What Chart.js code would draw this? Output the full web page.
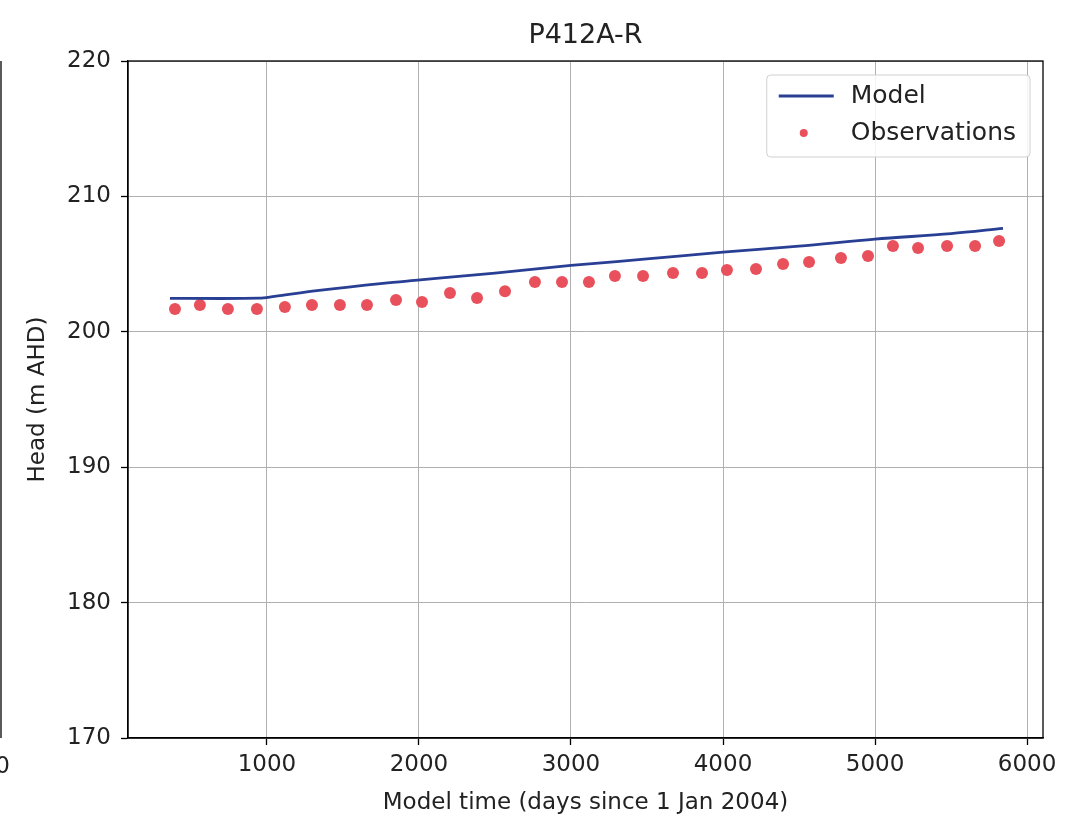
<!DOCTYPE html>
<html>
<head>
<meta charset="utf-8">
<script src="https://cdn.jsdelivr.net/npm/chart.js@4.4.1/dist/chart.umd.min.js"></script>
<style>
  html, body { margin: 0; padding: 0; background: #fff; }
  #wrap { width: 1073px; height: 821px; }
</style>
</head>
<body>
<div id="wrap"><canvas id="headChart" width="1073" height="821"></canvas></div>
<script>
const chartTitle = "P412A-R";
const xTitle = "Model time (days since 1 Jan 2004)";
const yTitle = "Head (m AHD)";

const xTicks = [1000, 2000, 3000, 4000, 5000, 6000];
const yTicks = [170, 180, 190, 200, 210, 220];

// model curve
const modelDays = [362, 700, 950, 1050, 1329, 1763, 2007, 2500, 3000, 3500, 4000, 4500, 5000, 5500, 5842];
const modelHead = [202.47, 202.46, 202.48, 202.62, 203.04, 203.58, 203.83, 204.34, 204.9, 205.38, 205.88, 206.32, 206.85, 207.25, 207.64];

// observed heads
const obsDays = [395, 559, 743, 934, 1118, 1296, 1480, 1658, 1849, 2020, 2204, 2382, 2566, 2763, 2941, 3118,
  3289, 3474, 3671, 3862, 4026, 4217, 4395, 4566, 4776, 4954, 5118, 5283, 5474, 5658, 5816];
const obsHead = [201.68, 201.98, 201.68, 201.68, 201.83, 201.98, 201.98, 201.98, 202.35, 202.2, 202.87, 202.5,
  203.0, 203.68, 203.68, 203.68, 204.12, 204.12, 204.34, 204.34, 204.56, 204.64, 205.0, 205.15, 205.45, 205.6,
  206.34, 206.19, 206.34, 206.34, 206.7];

const FONT = "'DejaVu Sans', sans-serif";
const TXT = "#222";
const MODEL_COLOR = "#283f94";
const OBS_COLOR = "#e8505c";

const frameAndLegend = {
  id: "frameAndLegend",
  afterDraw(chart) {
    const { ctx, chartArea: a } = chart;
    ctx.save();
    // full box round the plot
    ctx.strokeStyle = "#000";
    ctx.lineWidth = 1.3;
    ctx.strokeRect(a.left, a.top, a.right - a.left, a.bottom - a.top);

    // title over the plot area
    ctx.fillStyle = TXT;
    ctx.font = "27px " + FONT;
    ctx.textAlign = "center";
    ctx.textBaseline = "middle";
    ctx.fillText(chartTitle, (a.left + a.right) / 2, 36);

    // legend in the upper right corner
    ctx.font = "25px " + FONT;
    const ds = chart.data.datasets;
    const textW = Math.max(...ds.map(d => ctx.measureText(d.label).width));
    const boxR = a.right - 13, boxT = a.top + 14;
    const boxW = 84 + textW + 14, boxH = 82;
    const boxL = boxR - boxW;
    ctx.fillStyle = "rgba(255,255,255,0.85)";
    ctx.strokeStyle = "#d0d0d0";
    ctx.lineWidth = 1;
    ctx.beginPath();
    ctx.roundRect(boxL, boxT, boxW, boxH, 4);
    ctx.fill();
    ctx.stroke();
    ds.forEach((d, i) => {
      const cy = boxT + 21 + i * 37;
      if (d.showLine) {
        ctx.strokeStyle = d.borderColor;
        ctx.lineWidth = d.borderWidth;
        ctx.beginPath();
        ctx.moveTo(boxL + 12, cy);
        ctx.lineTo(boxL + 67, cy);
        ctx.stroke();
      } else {
        ctx.fillStyle = d.backgroundColor;
        ctx.beginPath();
        ctx.arc(boxL + 37, cy, 4, 0, Math.PI * 2);
        ctx.fill();
      }
      ctx.fillStyle = TXT;
      ctx.textAlign = "left";
      ctx.textBaseline = "middle";
      ctx.fillText(d.label, boxL + 84, cy);
    });

    // edge of the neighbouring panel
    ctx.strokeStyle = "#000";
    ctx.lineWidth = 1.3;
    ctx.beginPath();
    ctx.moveTo(1, a.top);
    ctx.lineTo(1, a.bottom);
    ctx.stroke();
    ctx.font = "23px " + FONT;
    ctx.fillStyle = TXT;
    ctx.textAlign = "right";
    ctx.fillText("0", 10, 767);
    ctx.restore();
  },
};

new Chart(document.getElementById("headChart"), {
  type: "scatter",
  data: {
    datasets: [
      {
        label: "Model",
        data: modelDays.map((d, i) => ({ x: d, y: modelHead[i] })),
        showLine: true,
        borderColor: MODEL_COLOR,
        backgroundColor: MODEL_COLOR,
        borderWidth: 2.8,
        pointRadius: 0,
        tension: 0.3,
        cubicInterpolationMode: "monotone",
      },
      {
        label: "Observations",
        data: obsDays.map((d, i) => ({ x: d, y: obsHead[i] })),
        showLine: false,
        backgroundColor: OBS_COLOR,
        borderColor: OBS_COLOR,
        borderWidth: 0,
        pointRadius: 6,
      },
    ],
  },
  options: {
    responsive: false,
    animation: false,
    layout: { padding: { left: 0, right: 30, top: 61, bottom: 0 } },
    plugins: {
      legend: { display: false },
      tooltip: { enabled: false },
      title: { display: false },
    },
    scales: {
      x: {
        type: "linear",
        min: 86,
        max: 6105,
        afterBuildTicks(scale) {
          scale.ticks = xTicks.map(v => ({ value: v }));
        },
        afterFit(scale) {
          scale.height = 83;
        },
        grid: { color: "#b0b0b0", lineWidth: 1, tickLength: 7, tickColor: "#000", tickWidth: 1.3 },
        border: { display: true, color: "#000", width: 1.3 },
        ticks: {
          color: TXT,
          font: { family: FONT, size: 23 },
          padding: 6,
          maxRotation: 0,
          callback: v => String(v),
        },
        title: {
          display: true,
          text: xTitle,
          color: TXT,
          font: { family: FONT, size: 23, lineHeight: 1.2 },
          padding: { top: 4, bottom: 4 },
        },
      },
      y: {
        type: "linear",
        min: 170,
        max: 220,
        afterBuildTicks(scale) {
          scale.ticks = yTicks.map(v => ({ value: v }));
        },
        afterFit(scale) {
          scale.width = 128;
        },
        grid: { color: "#b0b0b0", lineWidth: 1, tickLength: 7, tickColor: "#000", tickWidth: 1.3 },
        border: { display: true, color: "#000", width: 1.3 },
        ticks: {
          color: TXT,
          font: { family: FONT, size: 23 },
          padding: 10,
          callback: v => String(v),
        },
        title: {
          display: true,
          text: yTitle,
          color: TXT,
          font: { family: FONT, size: 23, lineHeight: 1.2 },
          padding: { top: 24, bottom: 4 },
        },
      },
    },
  },
  plugins: [frameAndLegend],
});
</script>
</body>
</html>
